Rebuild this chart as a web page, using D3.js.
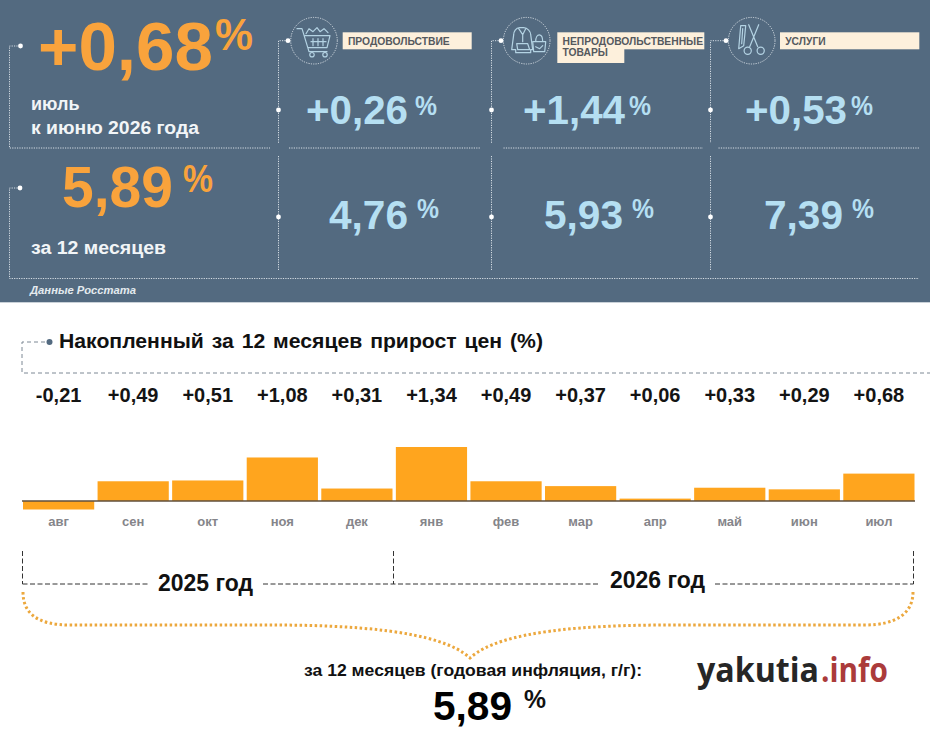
<!DOCTYPE html>
<html lang="ru">
<head>
<meta charset="utf-8">
<script src="https://cdn.jsdelivr.net/npm/d3@7"></script>
<style>
  html, body { margin:0; padding:0; background:#fff; }
  svg { display:block; }
  text { font-family:"Liberation Sans", Arial, sans-serif; font-weight:bold; }
  .dots { fill:none; stroke:#d5dde4; stroke-width:1; stroke-dasharray:1.2 1.2; }
  .icon { fill:none; stroke:#b4d3e3; stroke-width:1.2; stroke-linejoin:round; stroke-linecap:round; }
</style>
</head>
<body>
<svg id="chart" width="930" height="732"></svg>
<script>
// Chart data
const months      = ['авг','сен','окт','ноя','дек','янв','фев','мар','апр','май','июн','июл'];
const monthValues = [-0.21, 0.49, 0.51, 1.08, 0.31, 1.34, 0.49, 0.37, 0.06, 0.33, 0.29, 0.68];
const monthLabels = ['-0,21','+0,49','+0,51','+1,08','+0,31','+1,34','+0,49','+0,37','+0,06','+0,33','+0,29','+0,68'];

const groupNames   = [['ПРОДОВОЛЬСТВИЕ'], ['НЕПРОДОВОЛЬСТВЕННЫЕ','ТОВАРЫ'], ['УСЛУГИ']];
const groupMonthly = ['+0,26','+1,44','+0,53'];
const groupYearly  = ['4,76','5,93','7,39'];

const headMonthly = '+0,68';
const headYearly  = '5,89';
const panelBg = '#536a80', orange = '#f9a33c', blue = '#b5dff2', barColor = '#ffa51e';

const svg = d3.select('#chart');

function label(parent, x, y, str, size, fill, opts={}) {
    const t = parent.append('text').attr('x',x).attr('y',y).text(str)
                    .attr('font-size',size).attr('fill',fill);
    if (opts.len) t.attr('textLength',opts.len).attr('lengthAdjust','spacingAndGlyphs');
    return t;
}
function dot(parent, x, y, r=2.4, fill='#fff') {
    parent.append('circle').attr('cx',x).attr('cy',y).attr('r',r).attr('fill',fill);
}

//------------------------------------------------------------------------
// Top panel
const panel = svg.append('g');
panel.append('rect').attr('width',930).attr('height',302).attr('fill',panelBg);
panel.append('rect').attr('y',302).attr('width',930).attr('height',1).attr('fill','#c9d1d8');

[ 'M20,46H9.5V148H270', 'M20,188H9.5V278.5H919',
  'M288,40.7H278.5V143', 'M278.5,156V271', 'M289,148H480',
  'M501,40.7H491.5V143', 'M491.5,156V271', 'M503.5,148H703',
  'M726,40.7H710.5V143', 'M710.5,156V271', 'M718.5,148H919'
].forEach(d => panel.append('path').attr('class','dots').attr('d',d));

[[20.5,46],[20,188],[278.5,110],[278.5,217],[491.5,110],[491.5,217],[710.5,110],[710.5,217],
 [288,40.7],[501,40.7],[726,40.7]].forEach(p => dot(panel,p[0],p[1]));

label(panel,38,70,headMonthly,68,orange,{len:175});
label(panel,215,50,'%',45,orange,{len:38});
label(panel,62,207,headYearly,57,orange,{len:111});
label(panel,183,192,'%',38,orange,{len:30});

label(panel,31,110,'июль',18,'#f2f5f7');
label(panel,31,134,'к июню 2026 года',18,'#f2f5f7',{len:168});
label(panel,31,254,'за 12 месяцев',18,'#f2f5f7',{len:135});
label(panel,30,294,'Данные Росстата',11,'#e4eaef',{len:106}).style('font-style','italic');

// Group columns: icon circle, name plate, two values
const iconX   = [314, 526.7, 751.7];
const plateX  = [342.7, 557.3, 780];
const plateW  = [129, 147, 139.3];
const monthX  = [306, 523, 745];
const monthPx = [415, 629, 851];
const yearX   = [329, 544, 764];
const yearPx  = [417, 632, 852];

groupNames.forEach((lines, i) => {
    panel.append('circle').attr('class','dots').attr('cx',iconX[i]).attr('cy',40.7).attr('r',23.3);
    panel.append('rect').attr('x',plateX[i]).attr('y',32.3).attr('width',plateW[i]).attr('height',17).attr('fill','#fdf0dc');
    if (lines.length > 1)
        panel.append('rect').attr('x',plateX[i]).attr('y',49).attr('width',67).attr('height',14).attr('fill','#fdf0dc');
    lines.forEach((s, j) => label(panel,plateX[i]+5.2,45+j*11.3,s,10.3,'#55595e'));

    label(panel,monthX[i],124,groupMonthly[i],41,blue,{len:102});
    label(panel,monthPx[i],115,'%',28,blue,{len:22});
    label(panel,yearX[i],229,groupYearly[i],41,blue,{len:79});
    label(panel,yearPx[i],218,'%',28,blue,{len:22});
});

// Line icons, drawn around each circle centre
const cart = panel.append('g').attr('class','icon').attr('transform',`translate(${iconX[0]},40.7)`);
cart.append('path').attr('d','M-17,-12H-12L-5,11H13M-9,-5H16L13,7H-6M-3,1H12M-1,-2V5M4,-2V5M9,-2V5');
cart.append('circle').attr('cx',-2).attr('cy',14).attr('r',2.2);
cart.append('circle').attr('cx',11).attr('cy',14).attr('r',2.2);
cart.append('path').attr('d','M-8,-7L-5,-12L-1,-9L3,-13L6,-9L10,-12L14,-8');

const clothes = panel.append('g').attr('class','icon').attr('transform',`translate(${iconX[1]},40.7)`);
clothes.append('path').attr('d','M-7,-13C-11,-13 -13,-9 -13,-6L-15,9H-11V12H4V9H6L4,-6C4,-9 1,-13 -3,-13ZM-8,-12L-4,-6L-1,-12M-10,3H1L3,9H-9ZM-4,-6V1');
clothes.append('path').attr('d','M6,1H19L18,11H7ZM9,1C9,-8 16,-8 16,1M9,6L13,8L16,5');

const tools = panel.append('g').attr('class','icon').attr('transform',`translate(${iconX[2]},40.7)`);
tools.append('path').attr('d','M-11,-15H-6L-8,5L-13,8Z M-9,-12L-10,3');
tools.append('path').attr('d','M-3,-16L6,6M7,-16L-2,6');
tools.append('circle').attr('cx',-4).attr('cy',10).attr('r',3.6);
tools.append('circle').attr('cx',9).attr('cy',10).attr('r',3.6);

//------------------------------------------------------------------------
// Bottom chart
svg.append('path').attr('d','M45,342H22V373H930').attr('fill','none')
   .attr('stroke','#7d8894').attr('stroke-width',1).attr('stroke-dasharray','4 3');
dot(svg,49.5,342,3,panelBg);
label(svg,59,348,'Накопленный за 12 месяцев прирост цен (%)',21,'#111',{len:484}).attr('word-spacing',2);

const xScale = d3.scaleBand().domain(months).range([23,914.5]).paddingInner(0.045);
const yScale = d3.scaleLinear().domain([-0.21,1.34]).range([509.5,447]);

svg.append('g').selectAll('rect').data(months).join('rect')
   .attr('x',d=>xScale(d))
   .attr('width',xScale.bandwidth())
   .attr('y',(d,i)=>yScale(Math.max(0,monthValues[i])))
   .attr('height',(d,i)=>Math.abs(yScale(monthValues[i])-yScale(0)))
   .attr('fill',barColor);

svg.append('line').attr('x1',22).attr('x2',915).attr('y1',yScale(0)).attr('y2',yScale(0))
   .attr('stroke','#5f4f3c').attr('stroke-width',1.4);

svg.append('g').selectAll('text').data(months).join('text')
   .attr('x',d=>xScale(d)+xScale.bandwidth()/2)
   .attr('y',402).attr('text-anchor','middle')
   .attr('font-size',20).attr('fill','#141414')
   .text((d,i)=>monthLabels[i]);

const xAxis = d3.axisBottom(xScale).tickSize(0).tickPadding(0);
const axisG = svg.append('g').attr('transform','translate(0,517)').call(xAxis);
axisG.select('.domain').remove();
axisG.selectAll('text').style('font-family','"Liberation Sans", Arial, sans-serif')
     .style('font-weight','bold').attr('font-size',13).attr('fill','#85858a');

//------------------------------------------------------------------------
// Year brackets and the brace under them
const bracket = svg.append('g').attr('fill','none').attr('stroke','#333').attr('stroke-width',1).attr('stroke-dasharray','5 2.5');
['M22.5,551V584','M393.5,551V584','M913.5,551V584','M22.5,584H148','M263,584H600','M715,584H913.5']
   .forEach(d => bracket.append('path').attr('d',d));
label(svg,158,591,'2025 год',23,'#111',{len:95});
label(svg,610,588,'2026 год',23,'#111',{len:95});

svg.append('path')
   .attr('d','M23,592C23,614 38,625 70,625H270C350,625 440,630 470,658C500,630 590,625 670,625H865C895,625 913,614 913,592')
   .attr('fill','none').attr('stroke','#eca83e').attr('stroke-width',3).attr('stroke-dasharray','2.5 2.5');

label(svg,304,676,'за 12 месяцев (годовая инфляция, г/г):',16,'#111',{len:338});
label(svg,433,720,headYearly,41,'#000',{len:79});
label(svg,524,708,'%',26,'#111',{len:22});

// Site logo, two colours
label(svg,697,682,'yakutia',34,'#262626',{len:122}).style('font-family','"Open Sans", sans-serif');
label(svg,821,682,'.info',34,'#ab3b3b',{len:67}).style('font-family','"Open Sans", sans-serif');
</script>
</body>
</html>
